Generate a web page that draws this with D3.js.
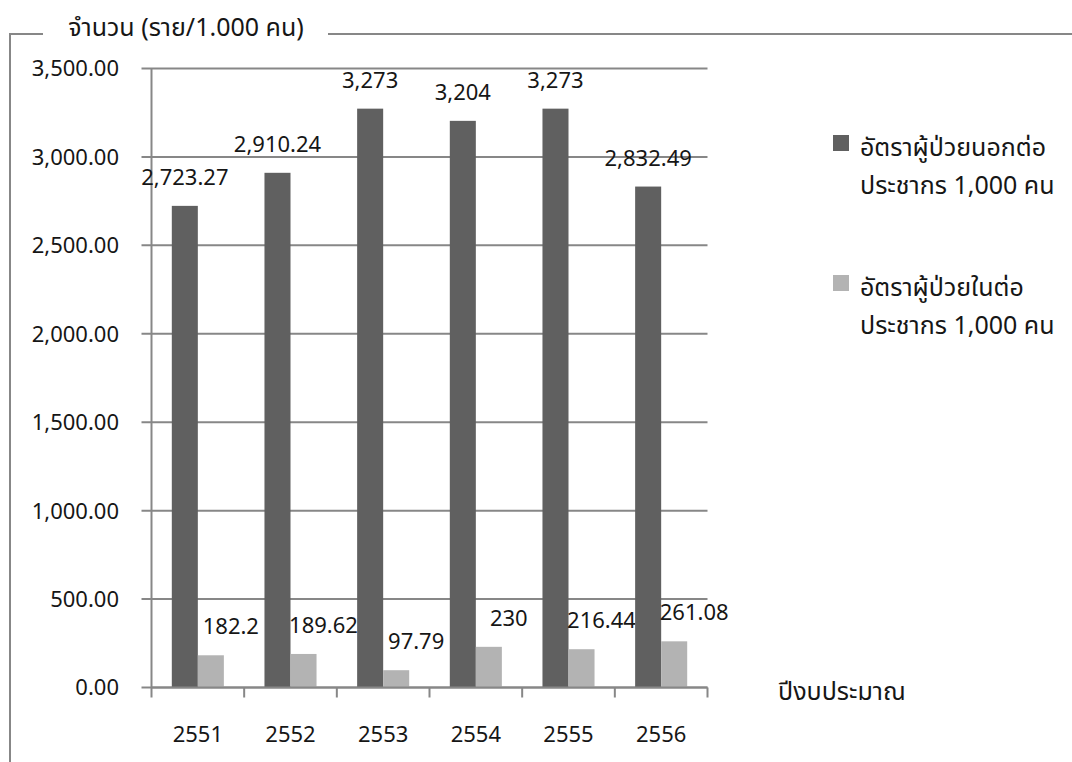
<!DOCTYPE html>
<html>
<head>
<meta charset="utf-8">
<script src="https://cdn.jsdelivr.net/npm/d3@7"></script>
<style>
  html, body { margin: 0; padding: 0; background: #fff; }
  svg { display: block; }
  text { font-family: "Noto Sans Thai", "Noto Sans", "DejaVu Sans", sans-serif; fill: #161616; }
</style>
</head>
<body>
<svg id="chart" width="1072" height="762"></svg>
<script>
// Budget years
const years = ["2551", "2552", "2553", "2554", "2555", "2556"];
// Outpatient rate per 1,000 population
const outpatient = [2723.27, 2910.24, 3273, 3204, 3273, 2832.49];
// Inpatient rate per 1,000 population
const inpatient = [182.2, 189.62, 97.79, 230, 216.44, 261.08];
// Value labels as printed on the bars
const outpatientLabels = ["2,723.27", "2,910.24", "3,273", "3,204", "3,273", "2,832.49"];
const inpatientLabels = ["182.2", "189.62", "97.79", "230", "216.44", "261.08"];
// Y axis ticks
const yTicks = [0, 500, 1000, 1500, 2000, 2500, 3000, 3500];
const seriesNames = ["outpatient", "inpatient"];
const legendLines = [
  ["อัตราผู้ป่วยนอกต่อ", "ประชากร 1,000 คน"],
  ["อัตราผู้ป่วยในต่อ", "ประชากร 1,000 คน"]
];
const yTitle = "จำนวน (ราย/1.000 คน)";
const xTitle = "ปีงบประมาณ";

const colors = { outpatient: "#606060", inpatient: "#b3b3b3" };
const gridColor = "#878787";
const fontSize = 22;      // numbers
const thaiFontSize = 25;  // Thai captions

const svg = d3.select("#chart");

// Outer frame (left and top edges) with a gap for the axis title
svg.append("path")
  .attr("d", "M10,762 V34 H43 M328,34 H1072")
  .attr("fill", "none").attr("stroke", gridColor).attr("stroke-width", 2);

svg.append("text")
  .attr("x", 186).attr("y", 36)
  .attr("text-anchor", "middle")
  .attr("font-size", thaiFontSize)
  .text(yTitle);

const plot = { left: 151.5, right: 707.5, top: 68.5, bottom: 687.5 };

const y = d3.scaleLinear().domain([0, 3500]).range([plot.bottom, plot.top]);
const x0 = d3.scaleBand().domain(years).range([plot.left, plot.right]).padding(0);
const x1 = d3.scaleBand().domain(seriesNames).range([0, x0.bandwidth()])
  .paddingInner(0).paddingOuter(0.78);

// Horizontal gridlines with a short outer tick
svg.append("g").selectAll("line").data(yTicks).join("line")
  .attr("x1", plot.left - 10).attr("x2", plot.right)
  .attr("y1", d => y(d)).attr("y2", d => y(d))
  .attr("stroke", gridColor).attr("stroke-width", 2);

// Y tick labels
const fmt = d3.format(",.2f");
svg.append("g").selectAll("text").data(yTicks).join("text")
  .attr("x", 119).attr("y", d => y(d))
  .attr("dy", "0.36em")
  .attr("text-anchor", "end")
  .attr("font-size", fontSize)
  .text(d => fmt(d));

// Y axis line
svg.append("line")
  .attr("x1", plot.left).attr("x2", plot.left)
  .attr("y1", plot.top).attr("y2", plot.bottom)
  .attr("stroke", gridColor).attr("stroke-width", 2);

// Category ticks below the baseline
const boundaries = years.map(d => x0(d)).concat([x0(years[years.length - 1]) + x0.bandwidth()]);
svg.append("g").selectAll("line").data(boundaries).join("line")
  .attr("x1", d => d).attr("x2", d => d)
  .attr("y1", plot.bottom).attr("y2", plot.bottom + 10)
  .attr("stroke", gridColor).attr("stroke-width", 2);

// Bars
const rows = years.map((yr, i) => ({
  year: yr,
  values: [
    { key: "outpatient", v: outpatient[i], label: outpatientLabels[i] },
    { key: "inpatient", v: inpatient[i], label: inpatientLabels[i] }
  ]
}));

const groups = svg.append("g").selectAll("g").data(rows).join("g")
  .attr("transform", d => `translate(${x0(d.year)},0)`);

groups.selectAll("rect").data(d => d.values).join("rect")
  .attr("x", d => x1(d.key))
  .attr("width", x1.bandwidth())
  .attr("y", d => y(d.v))
  .attr("height", d => y(0) - y(d.v))
  .attr("fill", d => colors[d.key]);

// Baseline drawn over the bars
svg.append("line")
  .attr("x1", plot.left).attr("x2", plot.right)
  .attr("y1", plot.bottom).attr("y2", plot.bottom)
  .attr("stroke", gridColor).attr("stroke-width", 2);

// Value labels
groups.selectAll("text").data(d => d.values).join("text")
  .attr("x", d => x1(d.key) + x1.bandwidth() / 2 + (d.key === "inpatient" ? 20 : 0))
  .attr("y", d => y(d.v) - 21)
  .attr("text-anchor", "middle")
  .attr("font-size", fontSize)
  .text(d => d.label);

// Year labels
svg.append("g").selectAll("text").data(years).join("text")
  .attr("x", d => x0(d) + x0.bandwidth() / 2)
  .attr("y", 742)
  .attr("text-anchor", "middle")
  .attr("font-size", fontSize)
  .text(d => d);

// X axis title
svg.append("text")
  .attr("x", 778).attr("y", 700)
  .attr("font-size", thaiFontSize)
  .text(xTitle);

// Legend
const legend = svg.append("g").selectAll("g").data(seriesNames).join("g")
  .attr("transform", (d, i) => `translate(833,${135 + i * 140})`);
legend.append("rect")
  .attr("width", 16).attr("height", 16)
  .attr("fill", d => colors[d]);
legend.each(function (d, i) {
  const t = d3.select(this).append("text")
    .attr("x", 27).attr("y", 21)
    .attr("font-size", thaiFontSize);
  legendLines[i].forEach((line, j) => {
    t.append("tspan").attr("x", 27).attr("dy", j === 0 ? 0 : 38).text(line);
  });
});
</script>
</body>
</html>
